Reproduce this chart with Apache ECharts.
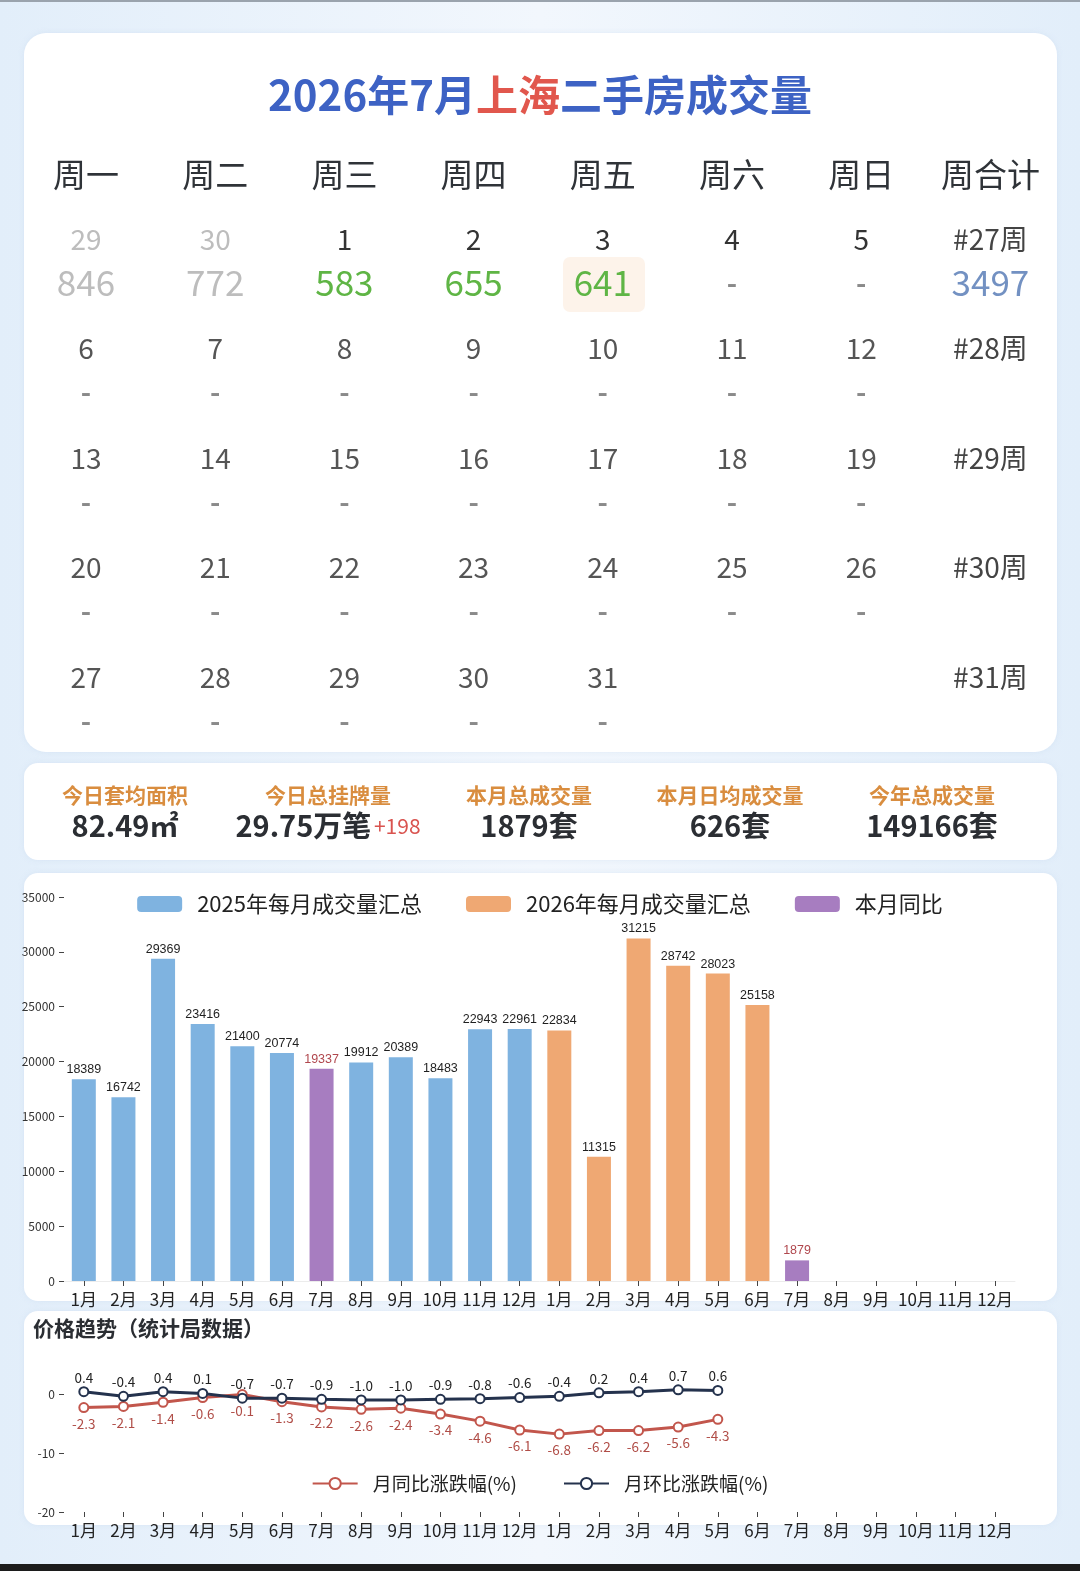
<!DOCTYPE html>
<html><head><meta charset="utf-8">
<script src="https://cdn.jsdelivr.net/npm/echarts@6/dist/echarts.min.js"></script>
<style>html,body{margin:0;padding:0;background:#e8f1fa;}#c{width:1080px;height:1571px;}</style>
</head><body><div id="c"></div>
<script>
// ---------- data ----------
const weekHeaders = ['周一','周二','周三','周四','周五','周六','周日','周合计'];
const calendarDays = [
  [29,30,1,2,3,4,5],
  [6,7,8,9,10,11,12],
  [13,14,15,16,17,18,19],
  [20,21,22,23,24,25,26],
  [27,28,29,30,31,null,null]
];
const prevMonthFlags = [
  [true,true,false,false,false,false,false],
  [false,false,false,false,false,false,false],
  [false,false,false,false,false,false,false],
  [false,false,false,false,false,false,false],
  [false,false,false,false,false,false,false]
];
const dailyVolumes = [
  [846,772,583,655,641,'-','-'],
  ['-','-','-','-','-','-','-'],
  ['-','-','-','-','-','-','-'],
  ['-','-','-','-','-','-','-'],
  ['-','-','-','-','-',null,null]
];
const weekLabels = ['#27周','#28周','#29周','#30周','#31周'];
const weekTotals = [3497,null,null,null,null];

const statLabels = ['今日套均面积','今日总挂牌量','本月总成交量','本月日均成交量','今年总成交量'];
const statValues = ['82.49㎡','29.75万笔','1879套','626套','149166套'];
const listingChange = '+198';

const monthLabels = ['1月','2月','3月','4月','5月','6月','7月','8月','9月','10月','11月','12月',
                     '1月','2月','3月','4月','5月','6月','7月','8月','9月','10月','11月','12月'];
const volume2025 = [18389,16742,29369,23416,21400,20774,null,19912,20389,18483,22943,22961,
                    null,null,null,null,null,null,null,null,null,null,null,null];
const volume2026 = [null,null,null,null,null,null,null,null,null,null,null,null,
                    22834,11315,31215,28742,28023,25158,null,null,null,null,null,null];
const sameMonthVolume = [null,null,null,null,null,null,19337,null,null,null,null,null,
                         null,null,null,null,null,null,1879,null,null,null,null,null];
const volumeTicks = [0,5000,10000,15000,20000,25000,30000,35000];

const yoyChange = [-2.3,-2.1,-1.4,-0.6,-0.1,-1.3,-2.2,-2.6,-2.4,-3.4,-4.6,-6.1,
                   -6.8,-6.2,-6.2,-5.6,-4.3,null,null,null,null,null,null,null];
const momChange = [0.4,-0.4,0.4,0.1,-0.7,-0.7,-0.9,-1.0,-1.0,-0.9,-0.8,-0.6,
                   -0.4,0.2,0.4,0.7,0.6,null,null,null,null,null,null,null];
const changeTicks = [-20,-10,0];

// ---------- layout ----------
const FONT = '"Noto Sans CJK SC","Noto Sans",sans-serif';
const colX = i => 86 + 129.2 * i;
const rowY = r => 239 + 109.5 * r;

const g = [];
g.push({type:'rect', z:0, shape:{x:0,y:0,width:1080,height:1571},
  style:{fill:new echarts.graphic.LinearGradient(0,0,1,0,[
    {offset:0,color:'#e2eefa'},{offset:0.5,color:'#f2f7fd'},{offset:1,color:'#e2eefa'}])}});
g.push({type:'rect', z:0, shape:{x:0,y:0,width:1080,height:2}, style:{fill:'#9aa3ad'}});
g.push({type:'rect', z:0, shape:{x:0,y:1564,width:1080,height:7}, style:{fill:'#1c1c1c'}});
[[24,33,1033,719,22],[24,763,1033,97,14],[24,873,1033,428,14],[24,1311,1033,214,14]].forEach(c=>{
  g.push({type:'rect', z:0, shape:{x:c[0],y:c[1],width:c[2],height:c[3],r:c[4]},
    style:{fill:'#ffffff', shadowBlur:6, shadowColor:'rgba(150,180,220,0.18)'}});
});
g.push({type:'text', z:1, style:{x:540,y:95,align:'center',verticalAlign:'middle',
  text:'{a|2026年7月}{b|上海}{a|二手房成交量}',
  rich:{a:{fontSize:42,fontWeight:'bold',fill:'#3d62c4',fontFamily:FONT},
        b:{fontSize:42,fontWeight:'bold',fill:'#e1574d',fontFamily:FONT}}}});
weekHeaders.forEach((h,i)=>{
  g.push({type:'text', z:1, style:{x:colX(i),y:174,align:'center',verticalAlign:'middle',
    text:h,fontSize:33,fontFamily:FONT,fill:'#2f3338'}});
});
g.push({type:'rect', z:1, shape:{x:563,y:257,width:82,height:55,r:7}, style:{fill:'#fdf3ea'}});
calendarDays.forEach((row,r)=>{
  row.forEach((d,i)=>{
    if(d===null) return;
    const prev = prevMonthFlags[r][i];
    g.push({type:'text', z:2, style:{x:colX(i),y:rowY(r),align:'center',verticalAlign:'middle',
      text:String(d),fontSize:28,fontFamily:FONT,fill:prev?'#bdbdbd':(r===0?'#333':'#555')}});
    const v = dailyVolumes[r][i];
    if(v===null) return;
    const isDash = v==='-';
    g.push({type:'text', z:2, style:{x:colX(i),y:rowY(r)+44,align:'center',verticalAlign:'middle',
      text:String(v),fontSize:isDash?28:35,fontWeight:isDash?'bold':'normal',fontFamily:FONT,
      fill:isDash?'#8a8a8a':(prev?'#bdbdbd':'#5fb545')}});
  });
  g.push({type:'text', z:2, style:{x:colX(7),y:rowY(r),align:'center',verticalAlign:'middle',
    text:weekLabels[r],fontSize:28,fontFamily:FONT,fill:'#444'}});
  if(weekTotals[r]!==null){
    g.push({type:'text', z:2, style:{x:colX(7),y:rowY(r)+44,align:'center',verticalAlign:'middle',
      text:String(weekTotals[r]),fontSize:35,fontFamily:FONT,fill:'#7391c2'}});
  }
});
const statX = [125,328,529,730,932];
statLabels.forEach((l,i)=>{
  g.push({type:'text', z:2, style:{x:statX[i],y:795,align:'center',verticalAlign:'middle',
    text:l,fontSize:21,fontWeight:'bold',fontFamily:FONT,fill:'#d98d3f'}});
  const txt = i===1 ? '{v|'+statValues[i]+'}{s| }{r|'+listingChange+'}' : '{v|'+statValues[i]+'}';
  g.push({type:'text', z:2, style:{x:statX[i],y:826,align:'center',verticalAlign:'middle',
    text:txt,rich:{v:{fontSize:29,fontWeight:'bold',fontFamily:FONT,fill:'#2b2e33'},
                   s:{fontSize:12,fontFamily:FONT},
                   r:{fontSize:21,fontFamily:FONT,fill:'#d9534f'}}}});
});
g.push({type:'text', z:2, style:{x:33,y:1328,align:'left',verticalAlign:'middle',
  text:'价格趋势（统计局数据）',fontSize:21,fontWeight:'bold',fontFamily:FONT,fill:'#2b2e33'}});

const blue='#7fb3e0', orange='#efa873', purple='#a77dc0';
const barLabel = {show:true,position:'top',distance:3,fontSize:12.5,color:'#1f1f1f',fontFamily:'"Liberation Sans",sans-serif'};

const option = {
  animation:false,
  textStyle:{fontFamily:FONT},
  graphic:{elements:g},
  legend:[
    {data:['2025年每月成交量汇总','2026年每月成交量汇总','本月同比'],top:888,left:'center',
     itemWidth:45,itemHeight:16,itemGap:44,
     textStyle:{fontSize:22,color:'#222',padding:[0,0,0,10]}},
    {data:['月同比涨跌幅(%)','月环比涨跌幅(%)'],top:1469,left:'center',
     itemWidth:45,itemHeight:14,itemGap:46,
     textStyle:{fontSize:19,color:'#222',padding:[0,0,0,10]}}
  ],
  grid:[
    {left:64,right:65,top:897,bottom:290},
    {left:64,right:65,top:1394,bottom:59}
  ],
  xAxis:[
    {type:'category',gridIndex:0,data:monthLabels,
     axisLine:{onZero:false,lineStyle:{color:'#ececec'}},
     axisTick:{show:true,alignWithLabel:true,length:5,lineStyle:{color:'#444'}},
     axisLabel:{interval:0,fontSize:17,color:'#222',margin:10}},
    {type:'category',gridIndex:1,data:monthLabels,
     axisLine:{show:false,onZero:false},
     axisTick:{show:true,alignWithLabel:true,length:5,lineStyle:{color:'#444'}},
     axisLabel:{interval:0,fontSize:17,color:'#222',margin:10}}
  ],
  yAxis:[
    {type:'value',gridIndex:0,min:volumeTicks[0],max:volumeTicks[volumeTicks.length-1],interval:5000,
     axisLine:{show:false},axisTick:{show:true,length:5,lineStyle:{color:'#444'}},
     splitLine:{show:false},axisLabel:{fontSize:12,color:'#333',margin:9,formatter:v=>String(v)}},
    {type:'value',gridIndex:1,min:changeTicks[0],max:changeTicks[changeTicks.length-1],interval:10,
     axisLine:{show:false},axisTick:{show:true,length:5,lineStyle:{color:'#444'}},
     splitLine:{show:false},axisLabel:{fontSize:12,color:'#333',margin:9,formatter:v=>String(v)}}
  ],
  series:[
    {name:'2025年每月成交量汇总',type:'bar',xAxisIndex:0,yAxisIndex:0,data:volume2025,
     barWidth:24,barGap:'-100%',itemStyle:{color:blue},label:barLabel},
    {name:'2026年每月成交量汇总',type:'bar',xAxisIndex:0,yAxisIndex:0,data:volume2026,
     barWidth:24,barGap:'-100%',itemStyle:{color:orange},label:barLabel},
    {name:'本月同比',type:'bar',xAxisIndex:0,yAxisIndex:0,data:sameMonthVolume,
     barWidth:24,barGap:'-100%',itemStyle:{color:purple},
     label:Object.assign({},barLabel,{color:'#b0474d'})},
    {name:'月同比涨跌幅(%)',type:'line',xAxisIndex:1,yAxisIndex:1,data:yoyChange,clip:false,
     symbol:'emptyCircle',symbolSize:9,lineStyle:{color:'#c2564c',width:3},
     itemStyle:{color:'#c2564c',borderWidth:2.5},
     label:{show:true,position:'bottom',distance:4,fontSize:13.5,color:'#b04d47',
       formatter:p=>p.value.toFixed(1)}},
    {name:'月环比涨跌幅(%)',type:'line',xAxisIndex:1,yAxisIndex:1,data:momChange,clip:false,
     symbol:'emptyCircle',symbolSize:9,lineStyle:{color:'#24324d',width:3},
     itemStyle:{color:'#24324d',borderWidth:2.5},
     label:{show:true,position:'top',distance:2,fontSize:13.5,color:'#222',
       formatter:p=>p.value.toFixed(1)}}
  ]
};
const chart = echarts.init(document.getElementById('c'));
chart.setOption(option);
</script></body></html>
